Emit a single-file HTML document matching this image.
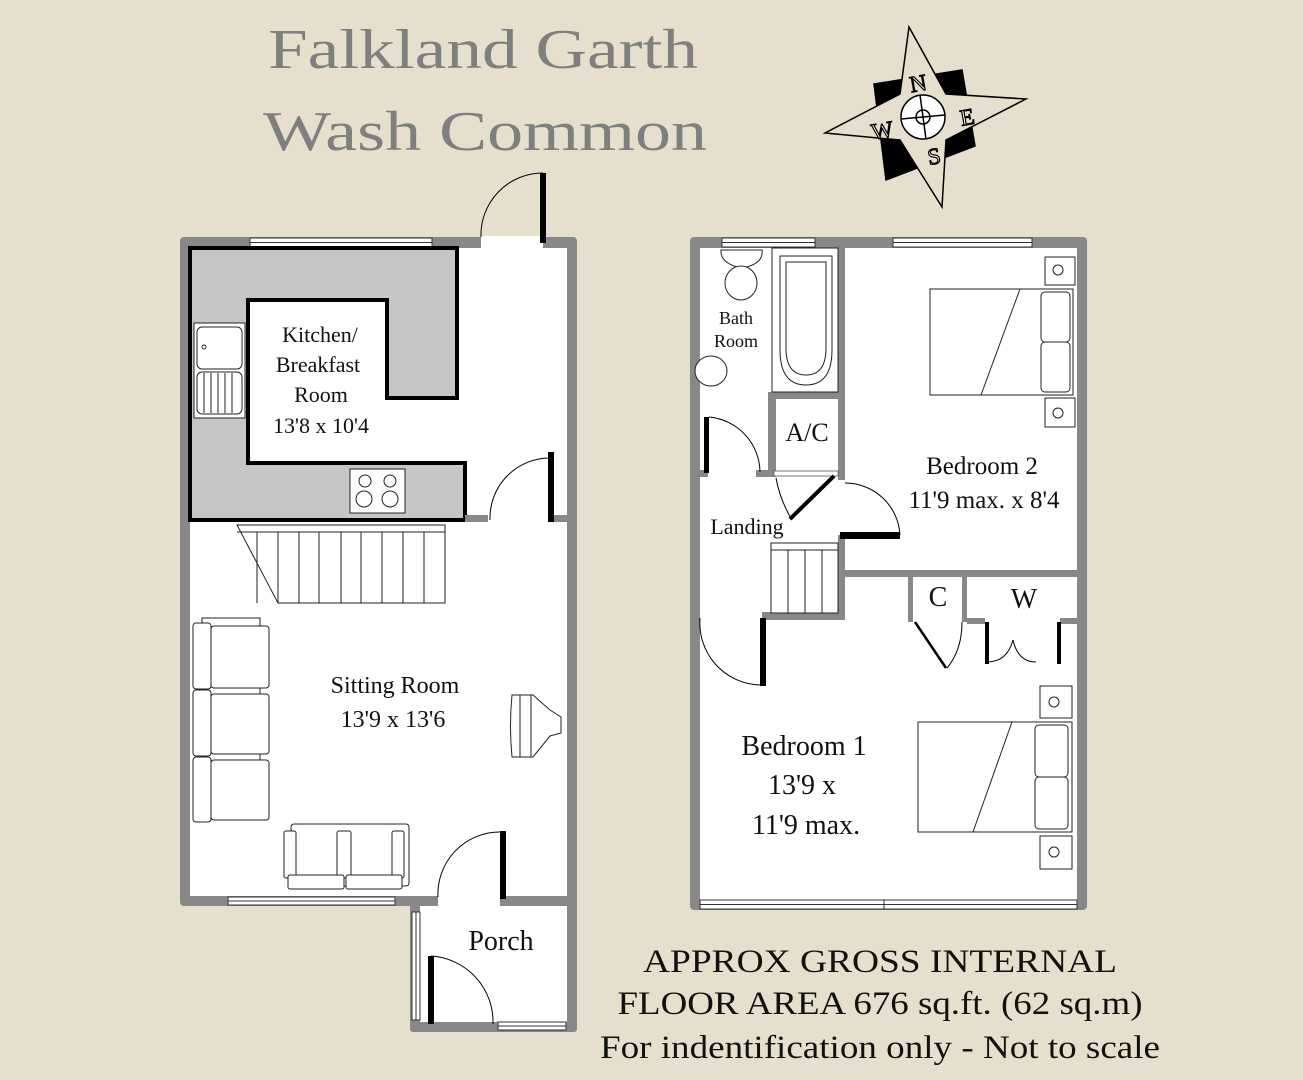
<!DOCTYPE html>
<html><head><meta charset="utf-8"><style>
html,body{margin:0;padding:0;background:#e6dfcd;}
svg{display:block;}
text{font-family:"Liberation Serif",serif;}
</style></head><body>
<svg width="1303" height="1080" viewBox="0 0 1303 1080" xmlns="http://www.w3.org/2000/svg">
<rect width="1303" height="1080" fill="#e6dfcd"/>
<text x="483" y="68" font-size="56" fill="#7f7f7f" text-anchor="middle" textLength="430" lengthAdjust="spacingAndGlyphs">Falkland Garth</text>
<text x="485" y="150" font-size="56" fill="#7f7f7f" text-anchor="middle" textLength="444" lengthAdjust="spacingAndGlyphs">Wash Common</text>

<!-- Compass -->
<g stroke="#000" stroke-width="1.5">
<polygon points="874,84 962,70 975,146 886,180" fill="#000"/>
<polygon points="909,27 946,94 1026,99 946,140 942,207 900,140 825,133 900,94" fill="#e6dfcd"/>
<circle cx="923" cy="117" r="22" fill="#fff"/>
<circle cx="923" cy="117" r="7" fill="#fff"/>
<line x1="920" y1="95" x2="926" y2="139"/><line x1="901" y1="119" x2="945" y2="115"/>
</g>
<g font-family="Liberation Sans,sans-serif" font-size="23" fill="#fff" stroke="#000" stroke-width="1.2" text-anchor="middle">
<text x="918" y="91" transform="rotate(-10 918 83)">N</text><text x="967" y="125" transform="rotate(-10 966 116)">E</text><text x="934" y="164" transform="rotate(-10 934 156)">S</text><text x="882" y="138" transform="rotate(-10 883 129)">W</text>
</g>

<!-- LEFT PLAN -->
<g>
<rect x="180" y="237" width="397" height="669" fill="#888" rx="4"/>
<rect x="190" y="248" width="377" height="648" fill="#fff"/>
<rect x="410" y="896" width="167" height="136" fill="#888" rx="3"/>
<rect x="420" y="906" width="147" height="116" fill="#fff"/>
<rect x="438" y="894" width="62" height="14" fill="#fff"/>
<rect x="481" y="236" width="62" height="13" fill="#fff"/>
<g fill="#fff" stroke="#333" stroke-width="1">
<rect x="250" y="238" width="182" height="9"/><line x1="250" y1="242.5" x2="432" y2="242.5"/>
<rect x="228" y="897" width="167" height="8"/><line x1="228" y1="901" x2="395" y2="901"/>
<rect x="412" y="912" width="8" height="108"/><line x1="416" y1="912" x2="416" y2="1020"/>
<rect x="498" y="1022" width="68" height="8"/><line x1="498" y1="1026" x2="566" y2="1026"/>
</g>
<polygon points="190,248 457,248 457,398 387,398 387,300 248,300 248,463 465,463 465,520 190,520" fill="#c6c6c6" stroke="#000" stroke-width="4"/>
<rect x="465" y="515" width="23" height="7" fill="#888"/>
<rect x="548" y="515" width="19" height="7" fill="#888"/>
<g fill="none" stroke="#222" stroke-width="1">
<rect x="194" y="323" width="51" height="95" fill="#fff"/>
<rect x="197" y="327" width="45" height="42" rx="5"/>
<rect x="197" y="372" width="45" height="42" rx="5"/>
<circle cx="204" cy="347" r="2"/>
<path d="M204,373V413M211,373V413M218,373V413M225,373V413M232,373V413"/>
<rect x="350" y="469" width="55" height="44" fill="#fff"/>
<circle cx="365" cy="481" r="6"/><circle cx="390" cy="481" r="6"/>
<circle cx="364" cy="499" r="8"/><circle cx="390" cy="499" r="8"/>
</g>
<g fill="none" stroke="#000" stroke-width="1">
<path d="M481,237 A62,62 0 0 1 543,173"/>
<path d="M490,520 A60,60 0 0 1 551,458"/>
<path d="M438,897 A62,62 0 0 1 500,832"/>
<path d="M431,956 A66,66 0 0 1 493,1024"/>
</g>
<rect x="540" y="173" width="6" height="70" fill="#000"/>
<rect x="548" y="452" width="6" height="70" fill="#000"/>
<rect x="500" y="831" width="6" height="68" fill="#000"/>
<rect x="428" y="956" width="6" height="68" fill="#000"/>
<g fill="#fff" stroke="#222" stroke-width="1">
<path d="M237,525 H445 V603 H278 Z"/>
<line x1="237" y1="532" x2="445" y2="532"/>
<path d="M257,532V603M278,532V603M299,532V603M319,532V603M341,532V603M361,532V603M382,532V603M403,532V603M424,532V603" fill="none"/>
<rect x="202" y="618" width="58" height="200"/>
<rect x="193" y="623" width="18" height="66" rx="3"/>
<rect x="193" y="690" width="18" height="66" rx="3"/>
<rect x="193" y="757" width="18" height="65" rx="3"/>
<rect x="211" y="626" width="58" height="62" rx="3"/>
<rect x="211" y="694" width="58" height="60" rx="3"/>
<rect x="211" y="760" width="58" height="60" rx="3"/>
<rect x="291" y="824" width="118" height="62" rx="3"/>
<rect x="284" y="831" width="12" height="47" rx="2"/>
<rect x="337" y="831" width="14" height="47" rx="2"/>
<rect x="392" y="831" width="12" height="47" rx="2"/>
<rect x="288" y="875" width="56" height="14" rx="2"/>
<rect x="346" y="875" width="56" height="14" rx="2"/>
<path d="M512,695 H533 L550,710 L561,717 V733 L550,736 L533,757 H512 Q509,726 512,695 Z"/>
<line x1="520" y1="695" x2="520" y2="757"/><line x1="531" y1="695" x2="531" y2="757"/>
</g>
</g>
<g font-size="22" fill="#111" text-anchor="middle">
<text x="320" y="342">Kitchen/</text>
<text x="318" y="372">Breakfast</text>
<text x="321" y="402">Room</text>
<text x="321" y="433">13'8 x 10'4</text>
<text x="395" y="693" font-size="24">Sitting Room</text>
<text x="393" y="727" font-size="24">13'9 x 13'6</text>
<text x="501" y="950" font-size="28">Porch</text>
</g>

<!-- RIGHT PLAN -->
<g>
<rect x="690" y="237" width="397" height="673" fill="#888" rx="4"/>
<rect x="700" y="248" width="377" height="652" fill="#fff"/>
<g fill="#888">
<rect x="838" y="248" width="7" height="232"/>
<rect x="768" y="392" width="77" height="7"/>
<rect x="768" y="392" width="8" height="85"/>
<rect x="700" y="470" width="8" height="7"/>
<rect x="756" y="470" width="20" height="7"/>
<rect x="838" y="535" width="7" height="85"/>
<rect x="762" y="612" width="83" height="8"/>
<rect x="845" y="570" width="232" height="7"/>
<rect x="908" y="577" width="5" height="45"/>
<rect x="962" y="577" width="5" height="45"/>
<rect x="908" y="618" width="5" height="4"/>
<rect x="967" y="618" width="18" height="6"/>
<rect x="1060" y="618" width="17" height="6"/>
</g>
<rect x="774" y="471" width="64" height="5" fill="#fff" stroke="#555" stroke-width="0.8"/>
<g fill="#fff" stroke="#333" stroke-width="1">
<rect x="722" y="238" width="93" height="9"/><line x1="722" y1="242.5" x2="815" y2="242.5"/>
<rect x="893" y="238" width="139" height="9"/><line x1="893" y1="242.5" x2="1032" y2="242.5"/>
<rect x="700" y="900" width="377" height="9"/><line x1="700" y1="904.5" x2="1077" y2="904.5"/><line x1="884" y1="900" x2="884" y2="909"/>
</g>
<g fill="none" stroke="#000" stroke-width="1">
<path d="M709,417 A56,56 0 0 1 760,472"/>
<path d="M776,478 Q780,500 792,520"/>
<path d="M845,483 A55,55 0 0 1 900,535"/>
<path d="M700,618 A62,62 0 0 0 760,685"/>
<path d="M962,622 Q962,650 947,668"/>
<path d="M987,662 Q1007,662 1013,640 M1036,662 Q1018,662 1013,640"/>
</g>
<rect x="704" y="417" width="5" height="56" fill="#000"/>
<line x1="834" y1="476" x2="790" y2="519" stroke="#000" stroke-width="4"/>
<rect x="840" y="532" width="60" height="7" fill="#000"/>
<rect x="760" y="618" width="6" height="68" fill="#000"/>
<line x1="915" y1="622" x2="946" y2="668" stroke="#000" stroke-width="2.5"/>
<rect x="985" y="622" width="4" height="42" fill="#000"/>
<rect x="1057" y="622" width="4" height="42" fill="#000"/>
<g fill="#fff" stroke="#222" stroke-width="1">
<rect x="772" y="248" width="66" height="144"/>
<path d="M780,256 H832 V350 Q832,385 806,385 Q780,385 780,350 Z"/>
<path d="M786,262 H826 V348 Q826,375 806,375 Q786,375 786,348 Z"/>
<path d="M721,250 H762 Q764,264 742,268 Q720,264 721,250 Z"/>
<ellipse cx="741" cy="283" rx="16" ry="17"/>
<ellipse cx="711" cy="371" rx="16" ry="15"/>
<rect x="930" y="289" width="143" height="106"/>
<line x1="1020" y1="289" x2="981" y2="395"/>
<rect x="1041" y="292" width="29" height="50" rx="4"/><rect x="1041" y="342" width="29" height="50" rx="4"/>
<rect x="1045" y="257" width="30" height="28"/><circle cx="1058" cy="270" r="5"/>
<rect x="1045" y="398" width="30" height="29"/><circle cx="1058" cy="413" r="5"/>
<rect x="918" y="722" width="154" height="110"/>
<line x1="1012" y1="722" x2="973" y2="832"/>
<rect x="1035" y="725" width="33" height="52" rx="4"/><rect x="1035" y="777" width="33" height="52" rx="4"/>
<rect x="1040" y="686" width="32" height="32"/><circle cx="1054" cy="702" r="5"/>
<rect x="1040" y="836" width="32" height="33"/><circle cx="1054" cy="852" r="5"/>
<rect x="771" y="543" width="67" height="70"/>
<line x1="771" y1="550" x2="838" y2="550"/>
<path d="M788,550V613M805,550V613M822,550V613" fill="none"/>
</g>
</g>
<g fill="#111" text-anchor="middle">
<text x="736" y="324" font-size="18">Bath</text>
<text x="736" y="347" font-size="18">Room</text>
<text x="807" y="441" font-size="26">A/C</text>
<text x="747" y="534" font-size="22">Landing</text>
<text x="982" y="474" font-size="25">Bedroom 2</text>
<text x="984" y="508" font-size="25">11'9 max. x 8'4</text>
<text x="938" y="606" font-size="28">C</text>
<text x="1024" y="608" font-size="28">W</text>
<text x="804" y="755" font-size="28">Bedroom 1</text>
<text x="802" y="794" font-size="28">13'9 x</text>
<text x="806" y="834" font-size="28">11'9 max.</text>
</g>
<g fill="#111" text-anchor="middle" font-size="33">
<text x="880" y="972" textLength="474" lengthAdjust="spacingAndGlyphs">APPROX GROSS INTERNAL</text>
<text x="880" y="1014" textLength="525" lengthAdjust="spacingAndGlyphs">FLOOR AREA 676 sq.ft. (62 sq.m)</text>
<text x="880" y="1058" textLength="560" lengthAdjust="spacingAndGlyphs">For indentification only - Not to scale</text>
</g>
</svg>
</body></html>
